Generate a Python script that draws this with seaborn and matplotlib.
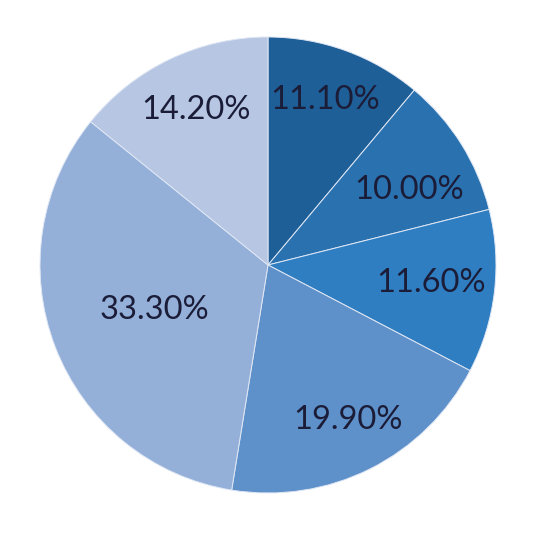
import matplotlib
matplotlib.use("Agg")
import matplotlib.pyplot as plt
import seaborn as sns

sns.set_theme(style="white")
plt.rcParams['font.family'] = ['Lato', 'DejaVu Sans']

labels = ["11.10%", "10.00%", "11.60%", "19.90%", "33.30%", "14.20%"]
values = [11.1, 10.0, 11.6, 19.9, 33.3, 14.2]
colors = ["#1f5f98", "#2a71b0", "#2f7ec2", "#5e90c9", "#94b0d9", "#b6c6e3"]
# label placement (fraction of radius, x/y) as in the reference's best-fit layout
label_pos = [(0.25, 0.724), (0.62, 0.33), (0.715, -0.08), (0.351, -0.68), (-0.5, -0.197), (-0.316, 0.68)]

fig = plt.figure(figsize=(5.4, 5.4), dpi=100)
ax = fig.add_axes([0, 0, 1, 1])
wedges, texts = ax.pie(values, colors=colors, startangle=90, counterclock=False,
                       labels=labels, labeldistance=0.7,
                       wedgeprops=dict(edgecolor="#dfe7f4", linewidth=0.7),
                       textprops=dict(fontsize=23.5, color="#1b1d38"))
for t, (x, y) in zip(texts, label_pos):
    t.set_position((x, y))
    t.set_ha("center")
    t.set_va("center")
ax.set_xlim(-268 / 228, 272 / 228)
ax.set_ylim(-275 / 228, 265 / 228)
ax.set_aspect("equal")
ax.axis("off")
fig.savefig("out.png", dpi=100, facecolor="white")
